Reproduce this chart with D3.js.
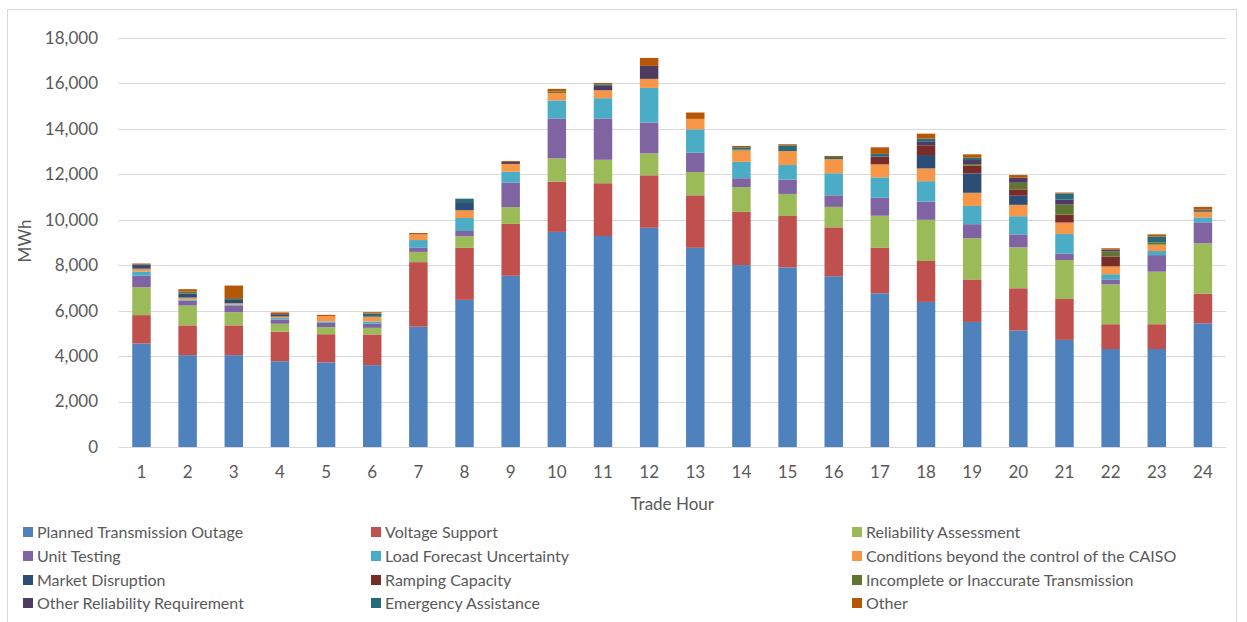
<!DOCTYPE html>
<html><head><meta charset="utf-8">
<script src="https://cdn.jsdelivr.net/npm/d3@7"></script>
<style>
html,body{margin:0;padding:0;background:#fff;}
text{font-family:Lato, "Open Sans", sans-serif;fill:#595959;}
</style></head>
<body>
<svg id="chart" width="1247" height="622"></svg>
<script>
const hours = ["1","2","3","4","5","6","7","8","9","10","11","12","13","14","15","16","17","18","19","20","21","22","23","24"];
const seriesNames = ["Planned Transmission Outage","Voltage Support","Reliability Assessment","Unit Testing","Load Forecast Uncertainty","Conditions beyond the control of the CAISO","Market Disruption","Ramping Capacity","Incomplete or Inaccurate Transmission","Other Reliability Requirement","Emergency Assistance","Other"];
const seriesColors = ["#4F81BD","#C0504D","#9BBB59","#8064A2","#4BACC6","#F79646","#2C4D75","#772C2A","#5F7530","#4D3B62","#276A7C","#B65708"];

const plannedOutage   = [4550,4040,4040,3770,3720,3600,5290,6470,7530,9460,9280,9640,8760,8000,7900,7510,6760,6380,5500,5120,4710,4310,4310,5440];
const voltageSupport  = [1250,1310,1310,1300,1240,1350,2840,2290,2280,2210,2320,2310,2310,2340,2260,2150,2000,1800,1870,1860,1800,1090,1090,1310];
const reliabilityAssess=[1230,870,580,350,310,290,450,510,740,1020,1030,960,1020,1090,970,900,1410,1810,1810,1800,1710,1750,2310,2210];
const unitTesting     = [500,220,300,190,190,180,180,230,1070,1760,1820,1360,850,390,630,510,790,800,620,570,280,220,730,920];
const loadForecast    = [190,50,40,60,60,100,340,570,490,790,890,1520,1030,720,640,970,900,900,800,800,870,230,180,220];
const conditions      = [120,80,50,70,240,210,250,340,340,330,350,400,460,500,615,620,570,560,580,500,500,340,280,240];
const marketDisruption= [160,180,180,100,0,0,0,360,0,0,0,0,0,0,0,0,0,590,850,400,0,0,0,0];
const rampingCapacity = [0,0,0,0,0,0,0,0,0,0,0,0,0,0,0,0,340,430,340,280,350,440,0,0];
const incompleteTrans = [0,90,50,0,0,0,0,0,0,60,0,0,0,40,0,0,0,0,70,290,440,220,100,50];
const otherReliability= [30,0,0,0,0,0,0,0,90,0,190,570,0,0,0,0,0,150,180,220,220,80,0,50];
const emergencyAssist = [0,0,0,0,0,140,0,150,0,0,70,0,0,100,250,90,120,140,100,0,270,0,250,0];
const other           = [40,100,550,80,50,60,60,0,40,120,60,350,280,60,50,50,290,220,150,120,40,60,100,120];

const yTicks = [0,2000,4000,6000,8000,10000,12000,14000,16000,18000];

const seriesValues = [plannedOutage,voltageSupport,reliabilityAssess,unitTesting,loadForecast,conditions,marketDisruption,rampingCapacity,incompleteTrans,otherReliability,emergencyAssist,other];

const rows = hours.map((h,i)=>{
  const r = {hour:h};
  seriesNames.forEach((s,k)=>{ r[s] = seriesValues[k][i]; });
  return r;
});

const svg = d3.select("#chart");
const plotL = 118.4, plotR = 1226, plotT = 37.7, plotB = 447;

// border
svg.append("rect").attr("x",7.5).attr("y",9.5).attr("width",1229).attr("height",640)
  .attr("fill","none").attr("stroke","#d9d9d9").attr("stroke-width",1);

const x = d3.scaleBand().domain(hours).range([plotL,plotR]).paddingInner(0.6).paddingOuter(0.3);
const y = d3.scaleLinear().domain([0,18000]).range([plotB,plotT]);

// gridlines
svg.append("g").selectAll("line").data(yTicks.filter(d=>d>0)).join("line")
  .attr("x1",plotL).attr("x2",plotR).attr("y1",d=>Math.round(y(d))+0.5).attr("y2",d=>Math.round(y(d))+0.5)
  .attr("stroke","#d9d9d9").attr("stroke-width",1);

const stack = d3.stack().keys(seriesNames);
const stacked = stack(rows);

svg.append("g").selectAll("g").data(stacked).join("g")
  .attr("fill",(d,i)=>seriesColors[i])
  .selectAll("rect").data(d=>d).join("rect")
  .attr("x",d=>x(d.data.hour))
  .attr("width",x.bandwidth())
  .attr("y",d=>y(d[1]))
  .attr("height",d=>Math.max(0,y(d[0])-y(d[1])));

// x axis line
svg.append("line").attr("x1",plotL).attr("x2",plotR).attr("y1",Math.round(plotB)+0.5).attr("y2",Math.round(plotB)+0.5)
  .attr("stroke","#d9d9d9").attr("stroke-width",1);

// y axis
const yAxis = d3.axisLeft(y).tickValues(yTicks).tickFormat(d3.format(",")).tickSize(0).tickPadding(0);
const gy = svg.append("g").attr("transform","translate(98,0)").call(yAxis);
gy.select(".domain").remove();
gy.selectAll("text").attr("font-size","17px").attr("fill","#595959").style("font-family","Lato");

// x axis
const xAxis = d3.axisBottom(x).tickSize(0).tickPadding(0);
const gx = svg.append("g").attr("transform",`translate(0,${plotB+19})`).call(xAxis);
gx.select(".domain").remove();
gx.selectAll("text").attr("font-size","17px").attr("fill","#595959").style("font-family","Lato");

// axis titles
svg.append("text").attr("x",(plotL+plotR)/2).attr("y",510).attr("text-anchor","middle")
  .attr("font-size","17px").text("Trade Hour");
svg.append("text").attr("transform","translate(31,241) rotate(-90)").attr("text-anchor","middle")
  .attr("font-size","17px").text("MWh");

// legend
const colX = [23,371,852];
const rowY = [532,556,580,603];
const leg = svg.append("g").selectAll("g").data(seriesNames).join("g")
  .attr("transform",(d,i)=>`translate(${colX[i%3]},${rowY[Math.floor(i/3)]})`);
leg.append("rect").attr("x",0).attr("y",-5).attr("width",10).attr("height",10).attr("fill",(d,i)=>seriesColors[i]);
leg.append("text").attr("x",14).attr("y",0).attr("dy","0.36em").attr("font-size","16px").text(d=>d);
</script>
</body></html>
